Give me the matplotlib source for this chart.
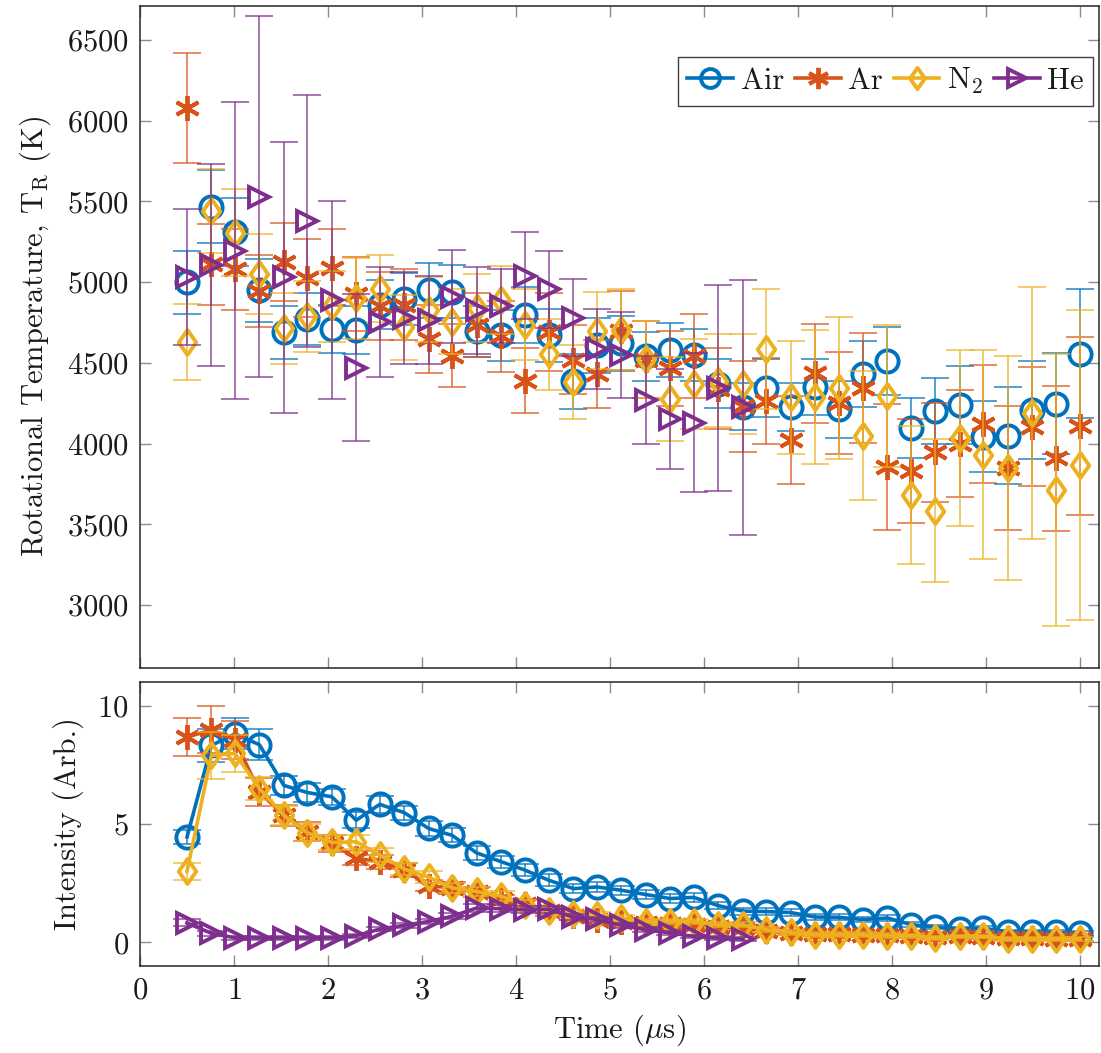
import numpy as np
import matplotlib
matplotlib.use("Agg")
import matplotlib.pyplot as plt
from matplotlib.path import Path

plt.rcParams["font.family"] = ["cmr10", "DejaVu Serif"]
plt.rcParams["mathtext.fontset"] = "cm"
plt.rcParams["axes.unicode_minus"] = False
plt.rcParams["axes.formatter.use_mathtext"] = True

# Time grid (microseconds)
time = [0.50, 0.76, 1.01, 1.27, 1.53, 1.78, 2.04, 2.30, 2.55, 2.81,
        3.07, 3.32, 3.58, 3.84, 4.09, 4.35, 4.61, 4.86, 5.12, 5.38,
        5.64, 5.89, 6.15, 6.41, 6.66, 6.92, 7.18, 7.43, 7.69, 7.95,
        8.20, 8.46, 8.72, 8.97, 9.23, 9.49, 9.74, 10.00]

labels = ["Air", "Ar", "N$_2$", "He"]
colors = ["#0072BD", "#D95319", "#EDB120", "#7E2F8E"]

# Rotational temperature (K) and uncertainty
temp_air = [5000, 5468, 5310, 4950, 4690, 4770, 4710, 4705, 4860, 4895,
            4950, 4940, 4695, 4670, 4795, 4670, 4385, 4610, 4620, 4540,
            4580, 4550, 4372, 4228, 4345, 4228, 4350, 4212, 4432, 4510,
            4098, 4200, 4240, 4042, 4048, 4208, 4248, 4556]
err_air = [195, 225, 210, 195, 165, 160, 150, 150, 150, 160,
           170, 165, 160, 160, 175, 165, 170, 170, 170, 150,
           165, 160, 150, 145, 180, 150, 175, 175, 205, 210,
           185, 205, 240, 220, 300, 305, 310, 400]

temp_ar = [6080, 5110, 5080, 4945, 5125, 5025, 5090, 4925, 4850, 4860,
           4650, 4545, 4735, 4665, 4390, 4690, 4520, 4430, 4700, 4520,
           4465, 4545, 4340, 4230, 4265, 4022, 4435, 4252, 4342, 3855,
           3830, 3945, 4000, 4122, 3848, 4105, 3908, 4108]
err_ar = [340, 250, 250, 225, 240, 240, 240, 230, 210, 220,
          210, 195, 200, 220, 200, 240, 215, 210, 245, 240,
          230, 260, 250, 280, 265, 275, 305, 315, 340, 390,
          325, 305, 330, 365, 385, 370, 450, 550]

temp_n2 = [4630, 5440, 5305, 5050, 4715, 4787, 4850, 4900, 4960, 4720,
           4830, 4755, 4840, 4890, 4735, 4552, 4382, 4700, 4705, 4522,
           4275, 4370, 4390, 4370, 4585, 4288, 4290, 4345, 4048, 4295,
           3682, 3585, 4032, 3932, 3848, 4192, 3712, 3867]
err_n2 = [235, 260, 270, 250, 220, 220, 220, 250, 210, 200,
          200, 200, 210, 210, 220, 220, 230, 240, 250, 240,
          260, 280, 290, 310, 370, 350, 415, 440, 400, 440,
          425, 445, 545, 650, 695, 780, 840, 960]

temp_he = [5030, 5105, 5195, 5530, 5030, 5380, 4890, 4470, 4755, 4780,
           4765, 4910, 4825, 4850, 5040, 4955, 4780, 4585, 4550, 4270,
           4150, 4130, 4345, 4225]
err_he = [420, 625, 920, 1115, 840, 780, 615, 455, 340, 285,
          275, 290, 270, 230, 270, 240, 240, 250, 265, 270,
          310, 430, 640, 790]

# Emission intensity (arbitrary units) and uncertainty
int_air = [4.45, 8.32, 8.81, 8.35, 6.63, 6.33, 6.15, 5.16, 5.83, 5.48,
           4.81, 4.52, 3.78, 3.41, 3.06, 2.62, 2.27, 2.34, 2.20, 2.02,
           1.85, 1.90, 1.55, 1.32, 1.30, 1.26, 1.07, 1.06, 0.96, 1.03,
           0.75, 0.65, 0.56, 0.60, 0.44, 0.44, 0.42, 0.38]
ierr_air = [0.30, 0.70, 0.65, 0.65, 0.40, 0.40, 0.35, 0.35, 0.35, 0.30,
            0.30, 0.30, 0.30, 0.25, 0.25, 0.25, 0.20, 0.20, 0.20, 0.20,
            0.20, 0.20, 0.15, 0.15, 0.15, 0.15, 0.12, 0.12, 0.12, 0.12,
            0.10, 0.10, 0.10, 0.10, 0.10, 0.10, 0.10, 0.10]

int_ar = [8.67, 8.98, 8.55, 6.35, 5.37, 4.67, 4.18, 3.55, 3.41, 3.06,
          2.40, 2.29, 2.12, 1.82, 1.62, 1.32, 1.10, 0.96, 0.88, 0.80,
          0.76, 0.72, 0.66, 0.60, 0.50, 0.40, 0.35, 0.34, 0.33, 0.30,
          0.28, 0.22, 0.25, 0.24, 0.17, 0.17, 0.16, 0.15]
ierr_ar = [0.80, 1.00, 0.80, 0.60, 0.45, 0.40, 0.35, 0.30, 0.30, 0.30,
           0.25, 0.25, 0.20, 0.20, 0.20, 0.20, 0.15, 0.15, 0.15, 0.15,
           0.12, 0.12, 0.12, 0.12, 0.10, 0.10, 0.10, 0.10, 0.10, 0.10,
           0.08, 0.08, 0.08, 0.08, 0.08, 0.08, 0.08, 0.08]

int_n2 = [3.00, 7.90, 7.98, 6.50, 5.37, 4.63, 4.22, 4.25, 3.69, 3.10,
          2.75, 2.30, 2.15, 1.95, 1.59, 1.32, 1.20, 1.15, 1.03, 0.88,
          0.88, 0.88, 0.74, 0.74, 0.53, 0.42, 0.32, 0.32, 0.32, 0.28,
          0.28, 0.19, 0.25, 0.25, 0.14, 0.14, 0.14, 0.14]
ierr_n2 = [0.35, 1.00, 0.80, 0.50, 0.40, 0.35, 0.30, 0.30, 0.30, 0.25,
           0.25, 0.20, 0.20, 0.20, 0.20, 0.15, 0.15, 0.15, 0.12, 0.12,
           0.12, 0.12, 0.10, 0.10, 0.10, 0.10, 0.10, 0.10, 0.10, 0.10,
           0.08, 0.08, 0.08, 0.08, 0.08, 0.08, 0.08, 0.08]

int_he = [0.82, 0.38, 0.19, 0.19, 0.19, 0.19, 0.19, 0.28, 0.56, 0.72,
          0.88, 1.10, 1.45, 1.42, 1.38, 1.40, 1.07, 0.97, 0.72, 0.53,
          0.40, 0.25, 0.18, 0.14]
ierr_he = [0.15, 0.10, 0.08, 0.08, 0.08, 0.08, 0.08, 0.08, 0.10, 0.10,
           0.10, 0.12, 0.15, 0.15, 0.15, 0.15, 0.12, 0.12, 0.10, 0.10,
           0.08, 0.08, 0.08, 0.08]

temps = [temp_air, temp_ar, temp_n2, temp_he]
temp_errs = [err_air, err_ar, err_n2, err_he]
ints = [int_air, int_ar, int_n2, int_he]
int_errs = [ierr_air, ierr_ar, ierr_n2, ierr_he]

diamond = Path([(0, 1), (0.7, 0), (0, -1), (-0.7, 0), (0, 1)],
               [Path.MOVETO, Path.LINETO, Path.LINETO, Path.LINETO, Path.CLOSEPOLY])
markers = ["o", (6, 2, 0), diamond, ">"]
msizes = [16, 18, 18, 15]
mew = 2.8

fig = plt.figure(figsize=(11.01, 10.53), dpi=100)
W, H = 1101, 1053
ax1 = fig.add_axes([140 / W, 1 - 668 / H, 959 / W, 662 / H])
ax2 = fig.add_axes([140 / W, 1 - 966 / H, 959 / W, 284 / H])

text_color = "#1a1a1a"
handles = []
for k in range(4):
    n = len(temps[k])
    t = time[:n]
    ax1.errorbar(t, temps[k], yerr=temp_errs[k], fmt="none", ecolor=colors[k],
                 elinewidth=1.1, capsize=10, capthick=1.1, alpha=0.85, zorder=2 + k)
    ax1.plot(t, temps[k], ls="none", marker=markers[k], ms=msizes[k],
             mfc="none", mec=colors[k], mew=mew, zorder=3 + k)
    ax2.errorbar(t, ints[k], yerr=int_errs[k], fmt="none", ecolor=colors[k],
                 elinewidth=1.1, capsize=10, capthick=1.1, alpha=0.85, zorder=2 + k)
    ax2.plot(t, ints[k], ls="-", lw=2.6, color=colors[k], marker=markers[k],
             ms=msizes[k], mfc="none", mec=colors[k], mew=mew, zorder=3 + k)
    lh, = ax1.plot([], [], ls="-", lw=2.6, color=colors[k], marker=markers[k],
                   ms=msizes[k] * 0.85, mfc="none", mec=colors[k], mew=mew)
    handles.append(lh)

for ax in (ax1, ax2):
    ax.set_xlim(0, 10.2)
    ax.set_xticks(range(0, 11))
    ax.tick_params(direction="in", length=8, width=1, color="#8c8c8c",
                   top=True, right=True, labelsize=22, labelcolor=text_color, pad=8)
    for s in ax.spines.values():
        s.set_linewidth(1.1)
        s.set_color("#262626")

ax1.set_ylim(2610, 6710)
ax1.set_yticks(range(3000, 6501, 500))
ax1.tick_params(labelbottom=False)
ax1.set_ylabel(r"Rotational Temperature, T$_\mathrm{R}$ (K)", fontsize=22,
               color=text_color, labelpad=10)

ax2.set_ylim(-1, 11)
ax2.set_yticks([0, 5, 10])
ax2.set_ylabel("Intensity (Arb.)", fontsize=22, color=text_color, labelpad=10)
ax2.set_xlabel(r"Time ($\mu$s)", fontsize=22, color=text_color, labelpad=6)

leg = ax1.legend(handles, labels, loc="upper right", ncol=4, fontsize=22,
                 bbox_to_anchor=(0.9937, 0.923), borderaxespad=0,
                 handlelength=1.5, handletextpad=0.25, columnspacing=0.35,
                 borderpad=0.3, fancybox=False, framealpha=1, edgecolor="#404040")
leg.get_frame().set_linewidth(1.0)
for txt in leg.get_texts():
    txt.set_color(text_color)

fig.savefig("out.png", dpi=100)
